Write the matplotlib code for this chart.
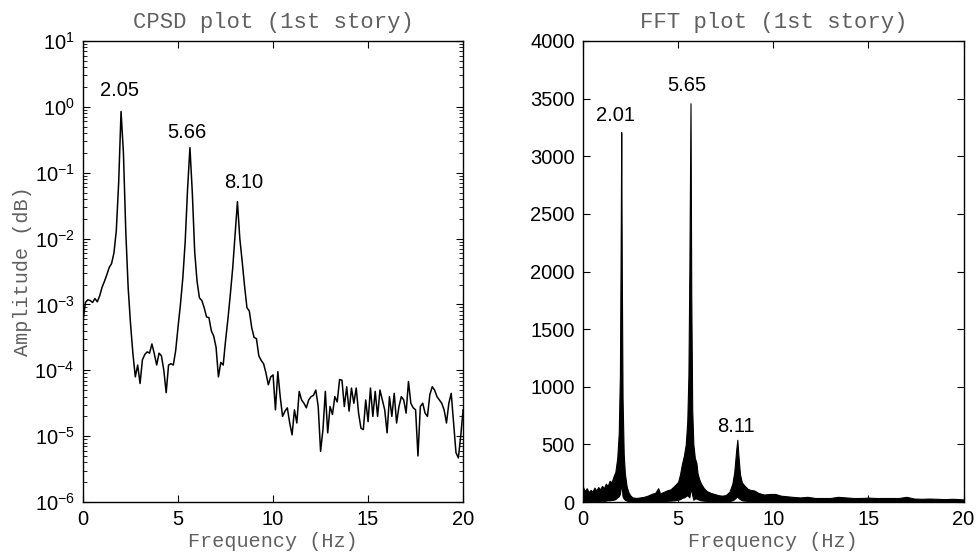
import numpy as np
import matplotlib.pyplot as plt

plt.rcParams['font.family'] = ['Liberation Sans', 'DejaVu Sans']
plt.rcParams['xtick.direction'] = 'in'
plt.rcParams['ytick.direction'] = 'in'

# CPSD (log10 de la amplitud), paso 0.125 Hz de 0 a 20 Hz
cpsd_log10 = [
    -3.25, -2.97, -2.93, -2.94, -2.97, -2.91, -2.96, -2.87,
    -2.74, -2.65, -2.55, -2.44, -2.38, -2.22, -1.88, -1.15,
    -0.07, -0.70, -1.90, -2.75, -3.30, -3.75, -4.10, -3.92,
    -4.20, -3.84, -3.76, -3.72, -3.74, -3.60, -3.75, -3.92,
    -3.74, -3.78, -4.00, -4.34, -3.92, -3.90, -3.92, -3.70,
    -3.34, -3.00, -2.60, -2.05, -1.25, -0.62, -1.30, -2.20,
    -2.65, -2.90, -2.94, -3.05, -3.19, -3.20, -3.40, -3.48,
    -3.65, -4.10, -3.88, -3.92, -3.55, -3.22, -2.85, -2.45,
    -1.95, -1.44, -2.00, -2.35, -2.72, -3.05, -3.10, -3.35,
    -3.50, -3.52, -3.78, -3.85, -3.90, -4.04, -4.22, -4.10,
    -4.07, -4.60, -4.02, -4.40, -4.70, -4.62, -4.57, -4.80,
    -4.98, -4.60, -4.80, -4.32, -4.45, -4.50, -4.57, -4.45,
    -4.40, -4.38, -4.30, -4.55, -5.23, -4.90, -4.32, -4.95,
    -4.55, -4.67, -4.40, -4.48, -4.14, -4.15, -4.55, -4.25,
    -4.62, -4.27, -4.50, -4.27, -4.65, -4.88, -4.90, -4.45,
    -4.78, -4.27, -4.70, -4.32, -4.70, -4.30, -4.45, -4.60,
    -4.95, -4.40, -4.70, -4.35, -4.80, -4.55, -4.40, -4.45,
    -4.65, -4.17, -4.50, -4.57, -4.60, -5.30, -4.55, -4.50,
    -4.65, -4.70, -4.37, -4.25, -4.30, -4.40, -4.45, -4.50,
    -4.60, -4.80, -4.50, -4.35, -4.80, -5.25, -5.33, -5.00,
    -4.60,
]
cpsd_freq = np.linspace(0, 20, len(cpsd_log10))
cpsd_amp = 10.0 ** np.array(cpsd_log10)

# FFT: envolventes superior e inferior de la banda
fft_freq = [
    0.00, 0.10, 0.20, 0.30, 0.40, 0.50, 0.60, 0.70, 0.80, 0.90,
    1.00, 1.10, 1.20, 1.30, 1.40, 1.50, 1.60, 1.70, 1.80, 1.88,
    1.94, 1.98, 2.01, 2.04, 2.08, 2.14, 2.20, 2.30, 2.40, 2.50,
    2.60, 2.80, 3.00, 3.20, 3.40, 3.60, 3.80, 3.95, 4.05, 4.20,
    4.40, 4.60, 4.80, 5.00, 5.10, 5.20, 5.30, 5.40, 5.48, 5.54,
    5.59, 5.65, 5.69, 5.74, 5.80, 5.88, 5.96, 6.02, 6.10, 6.20,
    6.35, 6.50, 6.70, 6.90, 7.10, 7.30, 7.50, 7.70, 7.85, 7.95,
    8.05, 8.11, 8.17, 8.25, 8.35, 8.50, 8.65, 8.80, 9.00, 9.20,
    9.50, 9.80, 10.10, 10.40, 10.70, 11.00, 11.40, 11.80, 12.20, 12.60,
    13.00, 13.40, 13.80, 14.20, 14.60, 15.00, 15.40, 15.80, 16.20, 16.60,
    17.00, 17.40, 17.80, 18.20, 18.60, 19.00, 19.40, 19.80, 20.00,
]
fft_upper = [
    130, 95, 120, 85, 105, 90, 125, 100, 130, 110,
    140, 120, 160, 140, 185, 170, 220, 260, 380, 600,
    1100, 2200, 3210, 2000, 900, 420, 250, 130, 80, 55,
    40, 35, 40, 45, 55, 70, 80, 120, 75, 85,
    100, 110, 140, 175, 240, 330, 400, 500, 700, 1100,
    2000, 3460, 1800, 800, 500, 380, 340, 250, 200, 160,
    120, 95, 80, 70, 60, 55, 60, 90, 160, 260,
    450, 540, 400, 240, 170, 140, 115, 105, 100, 80,
    65, 70, 70, 55, 50, 45, 40, 45, 35, 35,
    35, 45, 40, 35, 35, 38, 35, 35, 35, 35,
    45, 30, 28, 30, 28, 25, 28, 25, 22,
]
fft_lower = [
    10, 5, 8, 5, 10, 6, 8, 5, 10, 8,
    12, 10, 12, 15, 15, 18, 20, 25, 40, 50,
    70, 120, 170, 120, 50, 30, 20, 12, 8, 5,
    5, 5, 5, 6, 6, 8, 8, 8, 8, 10,
    10, 12, 15, 20, 25, 35, 40, 50, 60, 50,
    40, 110, 100, 60, 20, 30, 30, 25, 20, 15,
    12, 10, 8, 8, 6, 6, 6, 8, 15, 25,
    40, 50, 35, 25, 15, 12, 10, 10, 8, 8,
    6, 6, 6, 5, 5, 5, 5, 5, 4, 4,
    4, 4, 4, 4, 4, 4, 4, 4, 4, 4,
    4, 4, 3, 3, 3, 3, 3, 3, 3,
]

# Etiquetas de picos: (texto, x, y)
cpsd_picos = [("2.05", 1.9, 1.8), ("5.66", 5.47, 0.41), ("8.10", 8.47, 0.071)]
fft_picos = [("2.01", 1.7, 3355), ("5.65", 5.46, 3617), ("8.11", 8.06, 654)]

gris = '#606060'
mono = ['Liberation Mono', 'DejaVu Sans Mono']

fig = plt.figure(figsize=(9.77, 5.57), dpi=100)
ax1 = fig.add_axes([0.085, 0.0987, 0.389, 0.8277])
ax2 = fig.add_axes([0.5967, 0.0987, 0.3896, 0.8277])

# Panel izquierdo: CPSD
ax1.semilogy(cpsd_freq, cpsd_amp, color='black', lw=1.1)
ax1.set_xlim(0, 20)
ax1.set_ylim(1e-6, 1e1)
ax1.set_xticks([0, 5, 10, 15, 20])
ax1.set_title('CPSD plot (1st story)', family=mono, fontsize=16, color=gris, pad=9)
ax1.set_xlabel('Frequency (Hz)', family=mono, fontsize=14.5, color=gris, labelpad=2)
ax1.set_ylabel('Amplitude (dB)', family=mono, fontsize=14.5, color=gris, labelpad=2)
for txt, x, y in cpsd_picos:
    ax1.text(x, y, txt, ha='center', va='center', fontsize=14.5)

# Panel derecho: FFT
ax2.fill_between(fft_freq, fft_lower, fft_upper, color='black', lw=0.8)
ax2.set_xlim(0, 20)
ax2.set_ylim(0, 4000)
ax2.set_xticks([0, 5, 10, 15, 20])
ax2.set_yticks(np.arange(0, 4001, 500))
ax2.set_title('FFT plot (1st story)', family=mono, fontsize=16, color=gris, pad=9)
ax2.set_xlabel('Frequency (Hz)', family=mono, fontsize=14.5, color=gris, labelpad=2)
for txt, x, y in fft_picos:
    ax2.text(x, y, txt, ha='center', va='center', fontsize=14.5)

for ax in (ax1, ax2):
    ax.tick_params(which='both', top=True, right=True, labelsize=14.5, pad=6)
    ax.tick_params(which='major', length=5, width=0.8)
    ax.tick_params(which='minor', length=3, width=0.6)
    for s in ax.spines.values():
        s.set_linewidth(1.0)

fig.savefig('out.png', dpi=100)
